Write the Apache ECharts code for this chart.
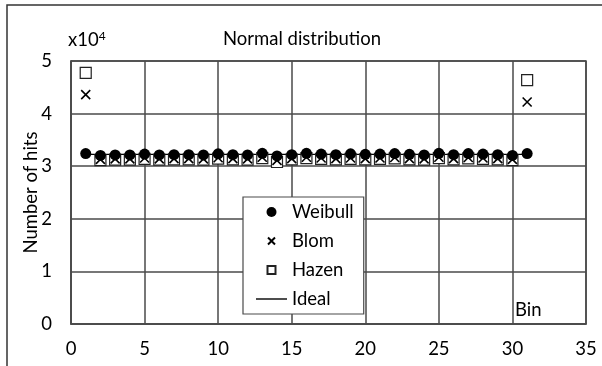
<!DOCTYPE html>
<html>
<head>
<meta charset="utf-8">
<script src="https://cdn.jsdelivr.net/npm/echarts@6/dist/echarts.min.js"></script>
<style>
  html, body { margin: 0; padding: 0; background: #fff; }
  #chart { width: 602px; height: 366px; }
</style>
</head>
<body>
<div id="chart"></div>
<script>
  // bins 1..31
  const bins = [1, 2, 3, 4, 5, 6, 7, 8, 9, 10, 11, 12, 13, 14, 15, 16, 17, 18, 19, 20, 21, 22, 23, 24, 25, 26, 27, 28, 29, 30, 31];
  const weibull = [32400, 32050, 32150, 32150, 32300, 32150, 32200, 32200, 32150, 32350, 32200, 32150, 32450, 31950, 32200, 32450, 32300, 32200, 32350, 32250, 32300, 32400, 32250, 32150, 32450, 32200, 32400, 32300, 32200, 32050, 32400];
  const blom = [43600, 31300, 31400, 31400, 31550, 31400, 31450, 31450, 31400, 31600, 31450, 31400, 31700, 31100, 31450, 31700, 31550, 31450, 31550, 31450, 31550, 31650, 31450, 31400, 31700, 31450, 31650, 31550, 31450, 31300, 42200];
  const hazen = [47750, 31150, 31250, 31250, 31400, 31250, 31300, 31300, 31250, 31450, 31300, 31250, 31550, 30800, 31300, 31550, 31400, 31300, 31400, 31300, 31400, 31500, 31300, 31250, 31550, 31300, 31500, 31400, 31300, 31150, 46350];
  const idealX = [1, 31];
  const idealY = [32258, 32258];
  const legendNames = ['Weibull', 'Blom', 'Hazen', 'Ideal'];

  const FONT = 'Lato, "Open Sans", sans-serif';
  const FS = 18.5;
  const INK = '#000';
  const GRID = '#4a4a4a';
  const CROSS = 'path://M0,0L10,10M10,0L0,10';
  const SQUARE = 'path://M0,0L10,0L10,10L0,10Z';
  // legend glyphs a bit smaller, padded inside a 10x10 box
  const CROSS_SMALL = 'path://M1.5,1.5L8.5,8.5M8.5,1.5L1.5,8.5M0,0M10,10';
  const SQUARE_SMALL = 'path://M1,1L9,1L9,9L1,9ZM0,0M10,10';
  const LINE_ICON = 'path://M0,0L31,0L31,1.4L0,1.4Z';

  const pairs = (xs, ys) => xs.map((x, i) => [x, ys[i]]);

  const chart = echarts.init(document.getElementById('chart'), null, { renderer: 'canvas' });
  const option = {
    animation: false,
    backgroundColor: '#fff',
    textStyle: { fontFamily: FONT, color: INK },
    title: [
      {
        text: 'Normal distribution',
        left: 297, top: 25, textAlign: 'center',
        textStyle: { fontFamily: FONT, fontSize: FS, fontWeight: 'normal', color: INK }
      },
      {
        text: 'x10{sup|4}',
        left: 63, top: 25,
        textStyle: {
          fontFamily: FONT, fontSize: FS, fontWeight: 'normal', color: INK,
          rich: { sup: { fontFamily: FONT, fontSize: 12, verticalAlign: 'top', padding: [0, 0, 8, 0], color: INK } }
        }
      }
    ],
    grid: {
      left: 71, right: 16, top: 61, bottom: 42,
      show: true, borderColor: GRID, borderWidth: 1.5, backgroundColor: 'transparent'
    },
    xAxis: {
      type: 'value', min: 0, max: 35, interval: 5,
      axisLine: { lineStyle: { color: GRID, width: 1.5 } },
      axisTick: { show: false },
      axisLabel: { fontFamily: FONT, fontSize: FS, color: INK, margin: 16 },
      splitLine: { show: true, lineStyle: { color: GRID, width: 1.5 } }
    },
    yAxis: {
      type: 'value', min: 0, max: 50000, interval: 10000,
      name: 'Number of hits', nameLocation: 'middle', nameGap: 30,
      nameMoveOverlap: false,
      nameTextStyle: { fontFamily: FONT, fontSize: FS, color: INK },
      axisLine: { show: true, lineStyle: { color: GRID, width: 1.5 } },
      axisTick: { show: false },
      axisLabel: { fontFamily: FONT, fontSize: FS, color: INK, margin: 19, formatter: v => String(v / 10000) },
      splitLine: { show: true, lineStyle: { color: GRID, width: 1.5 } }
    },
    legend: {
      orient: 'vertical',
      left: 243, top: 197, width: 133, height: 119,
      padding: [5, 10, 5, 13],
      backgroundColor: '#fff', borderColor: GRID, borderWidth: 1.2,
      itemWidth: 31, itemHeight: 10, itemGap: 9,
      textStyle: { fontFamily: FONT, fontSize: FS, color: INK, lineHeight: 20 },
      data: [
        { name: legendNames[0], icon: 'circle' },
        { name: legendNames[1], icon: CROSS_SMALL },
        { name: legendNames[2], icon: SQUARE_SMALL },
        { name: legendNames[3], icon: LINE_ICON }
      ]
    },
    series: [
      {
        name: legendNames[3], type: 'line', z: 1,
        data: pairs(idealX, idealY),
        symbol: 'none',
        lineStyle: { color: INK, width: 1.2 },
        itemStyle: { color: INK }
      },
      {
        name: legendNames[2], type: 'scatter', z: 2,
        data: pairs(bins, hazen),
        symbol: SQUARE, symbolSize: 11,
        itemStyle: { color: '#fff', borderColor: '#222', borderWidth: 1.2, opacity: 1 }
      },
      {
        name: legendNames[1], type: 'scatter', z: 3,
        data: pairs(bins, blom),
        symbol: CROSS, symbolSize: 9,
        itemStyle: { color: 'none', borderColor: INK, borderWidth: 1.6, opacity: 1 }
      },
      {
        name: legendNames[0], type: 'scatter', z: 4,
        data: pairs(bins, weibull),
        symbol: 'circle', symbolSize: 11,
        itemStyle: { color: INK, opacity: 1 }
      }
    ],
    graphic: [
      {
        type: 'rect', silent: true, z: -10,
        shape: { x: 7, y: 5, width: 620, height: 420 },
        style: { fill: 'none', stroke: '#333', lineWidth: 1.5 }
      },
      {
        type: 'text', silent: true, z: 10,
        left: 515, top: 301,
        style: { text: 'Bin', font: FS + 'px ' + FONT, fill: INK }
      }
    ]
  };
  chart.setOption(option);
</script>
</body>
</html>
